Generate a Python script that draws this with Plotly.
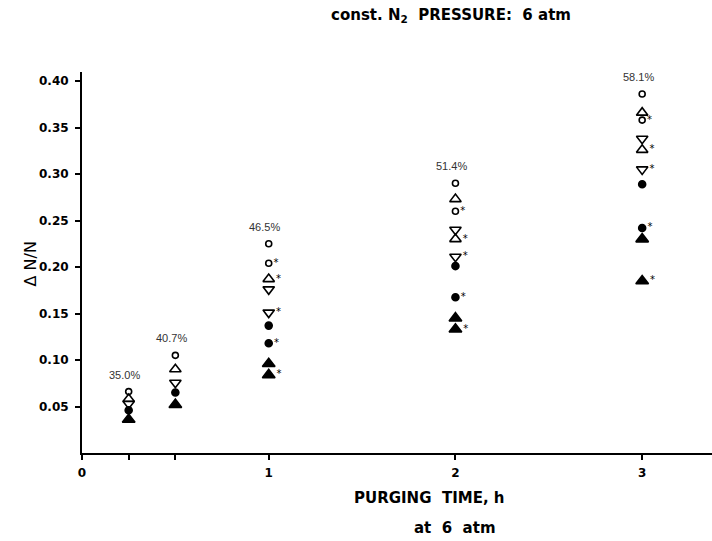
import plotly.graph_objects as go

# ---- data ----
x_all = [0.25, 0.5, 1, 2, 3]
x_late = [1, 2, 3]

open_circle = [0.066, 0.105, 0.225, 0.290, 0.386]
open_up = [0.058, 0.090, None, 0.273, 0.366]
open_down = [0.053, 0.0755, 0.176, 0.240, 0.338]
filled_circle = [0.046, 0.065, 0.137, 0.201, 0.289]
filled_up = [0.036, 0.052, 0.096, 0.145, 0.230]

open_circle_s = [0.204, 0.260, 0.358]
open_up_s = [0.187, 0.230, 0.326]
open_down_s = [0.151, 0.211, 0.305]
filled_circle_s = [0.118, 0.1675, 0.242]
filled_up_s = [0.084, 0.133, 0.185]

pct_labels = ["35.0%", "40.7%", "46.5%", "51.4%", "58.1%"]
pct_y = [0.066, 0.105, 0.225, 0.290, 0.386]

x_tickvals = [0, 0.25, 0.5, 1, 2, 3]
x_ticktext = ["0", "", "", "1", "2", "3"]
y_tickvals = [0.05, 0.10, 0.15, 0.20, 0.25, 0.30, 0.35, 0.40]

fig = go.Figure()

plain = [
    (open_circle, "circle-open", 6),
    (open_up, "triangle-up-open", 10),
    (open_down, "triangle-down-open", 10),
    (filled_circle, "circle", 7),
    (filled_up, "triangle-up", 11),
]
for ys, sym, sz in plain:
    fig.add_trace(go.Scatter(
        x=x_all, y=ys, mode="markers",
        marker=dict(symbol=sym, size=sz, color="black",
                    line=dict(color="black", width=1.6)),
        showlegend=False, cliponaxis=False))

starred = [
    (open_circle_s, "circle-open", 6),
    (open_up_s, "triangle-up-open", 10),
    (open_down_s, "triangle-down-open", 10),
    (filled_circle_s, "circle", 7),
    (filled_up_s, "triangle-up", 11),
]
for ys, sym, sz in starred:
    fig.add_trace(go.Scatter(
        x=x_late, y=ys, mode="markers+text",
        text=["*"] * len(ys), textposition="middle right",
        textfont=dict(family="DejaVu Sans", size=10, color="#000000"),
        marker=dict(symbol=sym, size=sz, color="black",
                    line=dict(color="black", width=1.6)),
        showlegend=False, cliponaxis=False))

for xv, yv, lab in zip(x_all, pct_y, pct_labels):
    fig.add_annotation(x=xv, y=yv, text=lab, showarrow=False,
                       xref="x", yref="y", yshift=17, xshift=-4,
                       font=dict(family="Liberation Sans", size=11, color="#333333"))

fig.add_annotation(x=0.585, y=1.1496, xref="paper", yref="paper",
                   xanchor="center", yanchor="middle",
                   text="const. N<sub>2</sub>  PRESSURE:  6 atm",
                   showarrow=False,
                   font=dict(family="DejaVu Sans", size=15, color="black", weight="bold"))
fig.add_annotation(x=-0.0825, y=0.495, xref="paper", yref="paper",
                   xanchor="center", yanchor="middle",
                   text="Δ N/N", textangle=-90, showarrow=False,
                   font=dict(family="DejaVu Sans", size=16, color="black"))
fig.add_annotation(x=0.552, y=-0.118, xref="paper", yref="paper",
                   xanchor="center", yanchor="middle",
                   text="PURGING  TIME, h", showarrow=False,
                   font=dict(family="DejaVu Sans", size=15, color="black", weight="bold"))
fig.add_annotation(x=0.592, y=-0.197, xref="paper", yref="paper",
                   xanchor="center", yanchor="middle",
                   text="at  6  atm", showarrow=False,
                   font=dict(family="DejaVu Sans", size=15, color="black", weight="bold"))

tickfont = dict(family="DejaVu Sans", size=12, color="black", weight="bold")

fig.update_xaxes(range=[0, 3.374], tickvals=x_tickvals, ticktext=x_ticktext,
                 showgrid=False, zeroline=False, showline=True,
                 linecolor="black", linewidth=2, ticks="outside",
                 ticklen=5, tickwidth=1.5, tickcolor="black",
                 tickfont=tickfont, ticklabelstandoff=3)
fig.update_yaxes(range=[0, 0.4097], tickvals=y_tickvals, tickformat=".2f",
                 showgrid=False, zeroline=False, showline=True,
                 linecolor="black", linewidth=2, ticks="outside",
                 ticklen=5, tickwidth=1.5, tickcolor="black",
                 tickfont=tickfont, ticklabelstandoff=4)

fig.update_layout(width=712, height=541,
                  margin=dict(l=82, r=0, t=72, b=88),
                  plot_bgcolor="white", paper_bgcolor="white")

fig.write_html("out.html")
